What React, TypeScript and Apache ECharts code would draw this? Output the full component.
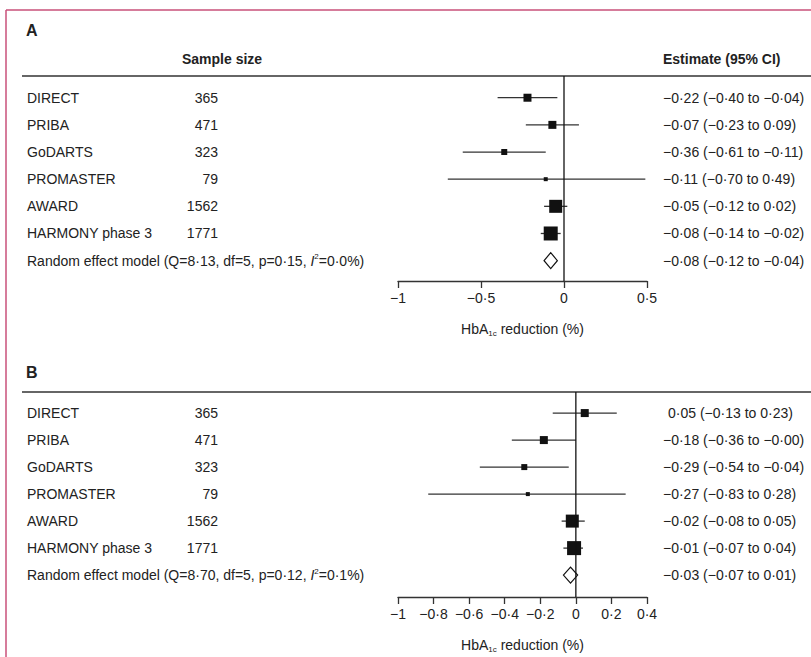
import React, { useEffect, useRef } from 'react';
import * as echarts from 'echarts';

const studies = ['DIRECT', 'PRIBA', 'GoDARTS', 'PROMASTER', 'AWARD', 'HARMONY phase 3'];
const sampleSizes = [365, 471, 323, 79, 1562, 1771];
const boxSizes = [8, 8, 6, 4, 13, 14];

const estA = [-0.22, -0.07, -0.36, -0.11, -0.05, -0.08];
const lowA = [-0.40, -0.23, -0.61, -0.70, -0.12, -0.14];
const highA = [-0.04, 0.09, -0.11, 0.49, 0.02, -0.02];
const pooledA = [-0.08, -0.12, -0.04];
const modelA = 'Random effect model (Q=8·13, df=5, p=0·15, {i|I}{sup|2}=0·0%)';

const estB = [0.05, -0.18, -0.29, -0.27, -0.02, -0.01];
const lowB = [-0.13, -0.36, -0.54, -0.83, -0.08, -0.07];
const highB = [0.23, -0.00, -0.04, 0.28, 0.05, 0.04];
const pooledB = [-0.03, -0.07, 0.01];
const modelB = 'Random effect model (Q=8·70, df=5, p=0·12, {i|I}{sup|2}=0·1%)';

const FONT = '"Liberation Sans Narrow", "Liberation Sans", sans-serif';
const fmt = (v: number) => (v < 0 || Object.is(v, -0) ? '−' : '') + Math.abs(v).toFixed(2).replace('.', '·');
const ciText = (e: number, l: number, h: number) => `${fmt(e)} (${fmt(l)} to ${fmt(h)})`;

const App: React.FC = () => {
  const ref = useRef<HTMLDivElement>(null);

  useEffect(() => {
    if (!ref.current) return;
    const chart = echarts.init(ref.current, undefined, { renderer: 'svg' });

    const rich = {
      i: { fontStyle: 'italic', fontFamily: FONT, fontSize: 14, color: '#222' },
      sup: { fontSize: 8, verticalAlign: 'top', fontFamily: FONT, color: '#222', padding: [0, 0, 8, 0] },
      sub: { fontSize: 8, fontFamily: FONT, color: '#222', padding: [8, 0, 0, 0] },
    };

    const makeSeries = (gi: number, est: number[], low: number[], high: number[], pooled: number[], model: string, yTop: number, yBottom: number) => {
      const rows = studies.map((s, i) => [est[i], i, low[i], high[i], boxSizes[i], sampleSizes[i], s, ciText(est[i], low[i], high[i])]);
      return [
        {
          type: 'line', xAxisIndex: gi, yAxisIndex: gi, symbol: 'none', silent: true,
          data: [[0, yTop], [0, yBottom]],
          lineStyle: { color: '#111', width: 1.3 },
        },
        {
          type: 'custom', xAxisIndex: gi, yAxisIndex: gi, clip: false,
          data: rows,
          renderItem: (params: any, api: any) => {
            const y = api.coord([0, api.value(1)])[1];
            const x = api.coord([api.value(0), 0])[0];
            const x1 = api.coord([api.value(2), 0])[0];
            const x2 = api.coord([api.value(3), 0])[0];
            const sz = api.value(4);
            const d = rows[params.dataIndex];
            const ci = d[7] as string;
            return {
              type: 'group',
              children: [
                { type: 'line', shape: { x1, y1: y, x2, y2: y }, style: { stroke: '#333', lineWidth: 1.3 } },
                { type: 'rect', shape: { x: x - sz / 2, y: y - sz / 2, width: sz, height: sz }, style: { fill: '#111' } },
                { type: 'text', x: 27, y, style: { text: d[6], fontFamily: FONT, fontSize: 14, fill: '#222', verticalAlign: 'middle' } },
                { type: 'text', x: 218, y, style: { text: String(d[5]), fontFamily: FONT, fontSize: 14, fill: '#222', verticalAlign: 'middle', align: 'right' } },
                { type: 'text', x: ci.startsWith('−') ? 663 : 668, y, style: { text: ci, fontFamily: FONT, fontSize: 14, fill: '#222', verticalAlign: 'middle' } },
              ],
            };
          },
        },
        {
          type: 'custom', xAxisIndex: gi, yAxisIndex: gi, clip: false,
          data: [[pooled[0], 6, pooled[1], pooled[2]]],
          renderItem: (params: any, api: any) => {
            const y = api.coord([0, 6])[1];
            const xc = api.coord([api.value(0), 0])[0];
            const xl = api.coord([api.value(2), 0])[0];
            const xr = api.coord([api.value(3), 0])[0];
            return {
              type: 'group',
              children: [
                { type: 'polygon', shape: { points: [[xl, y], [xc, y - 8], [xr, y], [xc, y + 8]] }, style: { fill: '#fff', stroke: '#111', lineWidth: 1.2 } },
                { type: 'text', x: 27, y, style: { text: model, rich, fontFamily: FONT, fontSize: 14, fill: '#222', verticalAlign: 'middle' } },
                { type: 'text', x: 663, y, style: { text: ciText(pooled[0], pooled[1], pooled[2]), fontFamily: FONT, fontSize: 14, fill: '#222', verticalAlign: 'middle' } },
              ],
            };
          },
        },
      ];
    };

    const xAxisBase = (min: number, max: number, interval: number, gi: number) => ({
      type: 'value', gridIndex: gi, min, max, interval, position: 'bottom',
      axisLine: { show: true, onZero: false, lineStyle: { color: '#333', width: 1.3 } },
      axisTick: { show: true, inside: false, length: 7, lineStyle: { color: '#333', width: 1.3 } },
      splitLine: { show: false },
      axisLabel: { fontFamily: FONT, fontSize: 14, color: '#222', margin: 10, formatter: (v: number) => (Math.abs(v) < 1e-9 ? '0' : (v < 0 ? '−' : '') + String(Math.round(Math.abs(v) * 10) / 10).replace('.', '·')) },
      name: 'HbA{sub|1c} reduction (%)', nameLocation: 'middle', nameGap: 40,
      nameTextStyle: { fontFamily: FONT, fontSize: 14, color: '#222', rich },
    });

    const yAxisBase = (gi: number, min: number, max: number) => ({
      type: 'value', gridIndex: gi, min, max, inverse: true, show: false,
    });

    const line = (x1: number, y1: number, x2: number, y2: number, stroke: string, w: number) => ({
      type: 'line', shape: { x1, y1, x2, y2 }, style: { stroke, lineWidth: w },
    });
    const label = (text: string, x: number, y: number, size: number, align = 'left') => ({
      type: 'text', x, y, style: { text, fontFamily: FONT, fontSize: size, fontWeight: 'bold', fill: '#222', align, verticalAlign: 'middle' },
    });

    chart.setOption({
      animation: false,
      backgroundColor: '#fff',
      grid: [
        { left: 398, width: 249, top: 76, height: 205 },
        { left: 398, width: 249, top: 392, height: 205 },
      ],
      xAxis: [xAxisBase(-1, 0.5, 0.5, 0), xAxisBase(-1, 0.4, 0.2, 1)],
      yAxis: [yAxisBase(0, -0.8, 6.75), yAxisBase(1, -0.78, 6.81)],
      series: [
        ...makeSeries(0, estA, lowA, highA, pooledA, modelA, -0.8, 6.75),
        ...makeSeries(1, estB, lowB, highB, pooledB, modelB, -0.78, 6.81),
      ],
      graphic: [
        line(6, 10, 811, 10, '#c8507a', 1.5),
        line(6, 10, 6, 657, '#c8507a', 1.5),
        line(22, 76, 811, 76, '#333', 1.5),
        line(22, 392, 811, 392, '#333', 1.5),
        label('A', 26, 30, 16),
        label('B', 26, 372, 16),
        label('Sample size', 182, 59, 14),
        label('Estimate (95% CI)', 663, 59, 14),
      ],
    });

    return () => chart.dispose();
  }, []);

  return <div ref={ref} style={{ position: 'fixed', left: 0, top: 0, width: 811, height: 657 }} />;
};

export default App;
